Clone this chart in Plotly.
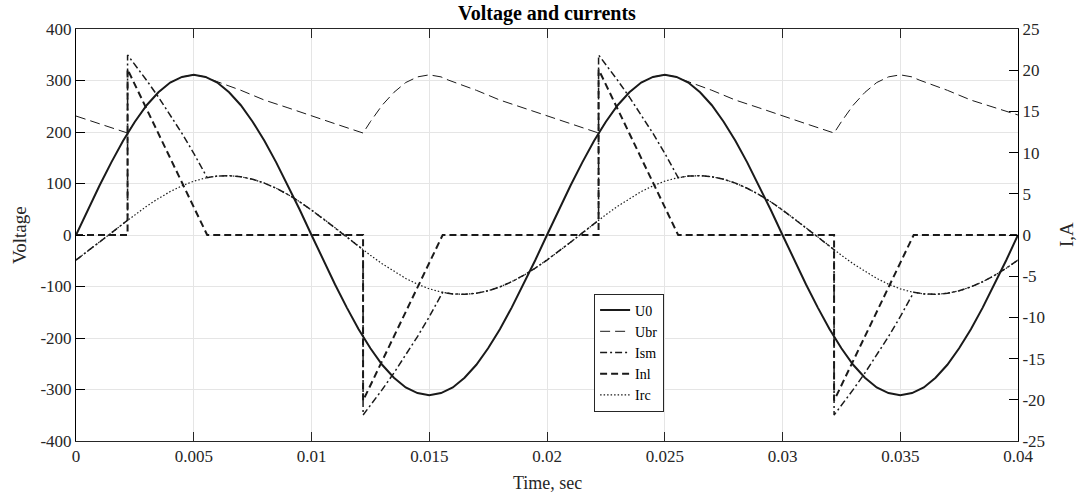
import plotly.graph_objects as go

# ---------------- data (time in ms, converted to s) ----------------
t_grid_ms = [0, 0.5, 1, 1.5, 2, 2.5, 3, 3.5, 4, 4.5, 5, 5.5, 6, 6.5, 7, 7.5, 8, 8.5, 9, 9.5,
             10, 10.5, 11, 11.5, 12, 12.5, 13, 13.5, 14, 14.5, 15, 15.5, 16, 16.5, 17, 17.5, 18, 18.5, 19, 19.5,
             20, 20.5, 21, 21.5, 22, 22.5, 23, 23.5, 24, 24.5, 25, 25.5, 26, 26.5, 27, 27.5, 28, 28.5, 29, 29.5,
             30, 30.5, 31, 31.5, 32, 32.5, 33, 33.5, 34, 34.5, 35, 35.5, 36, 36.5, 37, 37.5, 38, 38.5, 39, 39.5, 40]

u0_values = [0, 49, 96, 141, 183, 220, 252, 277, 296, 307, 311, 307, 296, 277, 252, 220, 183, 141, 96, 49,
             0, -49, -96, -141, -183, -220, -252, -277, -296, -307, -311, -307, -296, -277, -252, -220, -183, -141, -96, -49,
             0, 49, 96, 141, 183, 220, 252, 277, 296, 307, 311, 307, 296, 277, 252, 220, 183, 141, 96, 49,
             0, -49, -96, -141, -183, -220, -252, -277, -296, -307, -311, -307, -296, -277, -252, -220, -183, -141, -96, -49,
             0]

irc_values = [-3.04, -1.98, -0.88, 0.25, 1.37, 2.46, 3.49, 4.43, 5.27, 5.97, 6.53, 6.92, 7.15, 7.20, 7.07, 6.77, 6.30, 5.67, 4.91, 4.03,
              3.04, 1.98, 0.88, -0.25, -1.37, -2.46, -3.49, -4.43, -5.27, -5.97, -6.53, -6.92, -7.15, -7.20, -7.07, -6.77, -6.30, -5.67, -4.91, -4.03,
              -3.04, -1.98, -0.88, 0.25, 1.37, 2.46, 3.49, 4.43, 5.27, 5.97, 6.53, 6.92, 7.15, 7.20, 7.07, 6.77, 6.30, 5.67, 4.91, 4.03,
              3.04, 1.98, 0.88, -0.25, -1.37, -2.46, -3.49, -4.43, -5.27, -5.97, -6.53, -6.92, -7.15, -7.20, -7.07, -6.77, -6.30, -5.67, -4.91, -4.03,
              -3.04]

ubr_t_ms = [0, 1, 2.19, 2.5, 3, 3.5, 4, 4.5, 5, 5.5, 5.8, 7, 8, 9, 10, 11,
            12.19, 12.5, 13, 13.5, 14, 14.5, 15, 15.5, 15.8, 17, 18, 19, 20, 21,
            22.19, 22.5, 23, 23.5, 24, 24.5, 25, 25.5, 25.8, 27, 28, 29, 30, 31,
            32.19, 32.5, 33, 33.5, 34, 34.5, 35, 35.5, 35.8, 37, 38, 39, 40]
ubr_values = [231, 216, 198, 220, 252, 277, 296, 307, 311, 307, 301, 281, 262, 247, 231, 216,
              198, 220, 252, 277, 296, 307, 311, 307, 301, 281, 262, 247, 231, 216,
              198, 220, 252, 277, 296, 307, 311, 307, 301, 281, 262, 247, 231, 216,
              198, 220, 252, 277, 296, 307, 311, 307, 301, 281, 262, 247, 233]

ism_t_ms = [0, 0.5, 1, 1.5, 2, 2.19, 2.19, 2.5, 3, 3.5, 4, 4.5, 5, 5.5, 5.57, 6, 6.5, 7, 7.5, 8, 8.5, 9, 9.5,
            10, 10.5, 11, 11.5, 12, 12.19, 12.19, 12.5, 13, 13.5, 14, 14.5, 15, 15.5, 15.57, 16, 16.5, 17, 17.5, 18, 18.5, 19, 19.5,
            20, 20.5, 21, 21.5, 22, 22.19, 22.19, 22.5, 23, 23.5, 24, 24.5, 25, 25.5, 25.57, 26, 26.5, 27, 27.5, 28, 28.5, 29, 29.5,
            30, 30.5, 31, 31.5, 32, 32.19, 32.19, 32.5, 33, 33.5, 34, 34.5, 35, 35.5, 35.57, 36, 36.5, 37, 37.5, 38, 38.5, 39, 39.5,
            40]
ism_values = [-3.04, -1.98, -0.88, 0.25, 1.37, 1.79, 21.85, 20.72, 18.77, 16.74, 14.61, 12.33, 9.92, 7.34, 6.96, 7.15, 7.20, 7.07, 6.77, 6.30, 5.67, 4.91, 4.03,
              3.04, 1.98, 0.88, -0.25, -1.37, -1.79, -21.85, -20.72, -18.77, -16.74, -14.61, -12.33, -9.92, -7.34, -6.96, -7.15, -7.20, -7.07, -6.77, -6.30, -5.67, -4.91, -4.03,
              -3.04, -1.98, -0.88, 0.25, 1.37, 1.79, 21.85, 20.72, 18.77, 16.74, 14.61, 12.33, 9.92, 7.34, 6.96, 7.15, 7.20, 7.07, 6.77, 6.30, 5.67, 4.91, 4.03,
              3.04, 1.98, 0.88, -0.25, -1.37, -1.79, -21.85, -20.72, -18.77, -16.74, -14.61, -12.33, -9.92, -7.34, -6.96, -7.15, -7.20, -7.07, -6.77, -6.30, -5.67, -4.91, -4.03,
              -3.04]

inl_t_ms = [0, 2.19, 2.19, 5.57, 12.19, 12.19, 15.57, 22.19, 22.19, 25.57, 32.19, 32.19, 35.57, 40]
inl_values = [0, 0, 20.1, 0, 0, -20.1, 0, 0, 20.1, 0, 0, -20.1, 0, 0]

x_tickvals = [0, 0.005, 0.01, 0.015, 0.02, 0.025, 0.03, 0.035, 0.04]
x_ticktext = ["0", "0.005", "0.01", "0.015", "0.02", "0.025", "0.03", "0.035", "0.04"]
v_tickvals = [-400, -300, -200, -100, 0, 100, 200, 300, 400]
v_ticktext = ["-400", "-300", "-200", "-100", "0", "100", "200", "300", "400"]
i_tickvals = [-25, -20, -15, -10, -5, 0, 5, 10, 15, 20, 25]
i_ticktext = ["-25", "-20", "-15", "-10", "-5", "0", "5", "10", "15", "20", "25"]

def to_s(lst):
    return [v / 1000.0 for v in lst]

FONT = "Liberation Serif"
INK = "#1a1a1a"
AX = "#262626"

fig = go.Figure()
fig.add_trace(go.Scatter(x=to_s(t_grid_ms), y=u0_values, name="U0", mode="lines",
                         line=dict(color=INK, width=2)))
fig.add_trace(go.Scatter(x=to_s(ubr_t_ms), y=ubr_values, name="Ubr", mode="lines",
                         line=dict(color=INK, width=1, dash="10px,5px")))
fig.add_trace(go.Scatter(x=to_s(ism_t_ms), y=ism_values, name="Ism", mode="lines", yaxis="y2",
                         line=dict(color=INK, width=1.5, dash="7px,3px,2px,3px")))
fig.add_trace(go.Scatter(x=to_s(inl_t_ms), y=inl_values, name="Inl", mode="lines", yaxis="y2",
                         line=dict(color=INK, width=2, dash="7px,4px")))
fig.add_trace(go.Scatter(x=to_s(t_grid_ms), y=irc_values, name="Irc", mode="lines", yaxis="y2",
                         line=dict(color=INK, width=1.2, dash="1.5px,2px")))

tickfont = dict(family=FONT, size=17, color=AX)

fig.update_layout(
    width=1078, height=495,
    paper_bgcolor="white", plot_bgcolor="white",
    margin=dict(l=76, r=60, t=29, b=54, autoexpand=False),
    font=dict(family=FONT, size=15, color=AX),
    title=dict(text="<b>Voltage and currents</b>", x=0.5, xref="paper", xanchor="center",
               y=1 - 13 / 495, yref="container", yanchor="middle",
               font=dict(family=FONT, size=20, color="black")),
    xaxis=dict(range=[0, 0.04], tickvals=x_tickvals, ticktext=x_ticktext,
               ticks="inside", ticklen=9, tickcolor=AX, tickwidth=1,
               showline=True, linecolor=AX, linewidth=1, mirror="ticks",
               showgrid=True, gridcolor="#e5e5e5", gridwidth=1,
               zeroline=False, tickfont=tickfont),
    yaxis=dict(range=[-400, 400], tickvals=v_tickvals, ticktext=v_ticktext,
               ticks="inside", ticklen=9, tickcolor="black", tickwidth=1,
               showline=True, linecolor="black", linewidth=1,
               showgrid=True, gridcolor="#e5e5e5", gridwidth=1,
               zeroline=False, tickfont=tickfont),
    yaxis2=dict(range=[-25, 25], tickvals=i_tickvals, ticktext=i_ticktext, overlaying="y", side="right",
                ticks="inside", ticklen=9, tickcolor="black", tickwidth=1,
                showline=True, linecolor="black", linewidth=1,
                showgrid=False, zeroline=False, tickfont=tickfont),
    legend=dict(x=0.55, y=0.358, xanchor="left", yanchor="top",
                bgcolor="white", bordercolor=AX, borderwidth=1,
                font=dict(family=FONT, size=14, color="black"),
                tracegroupgap=0, itemwidth=30),
    showlegend=True,
)

fig.add_annotation(text="Time, sec", xref="paper", yref="paper", x=0.5, y=0,
                   yanchor="middle", yshift=-42, showarrow=False,
                   font=dict(family=FONT, size=18, color=AX))
fig.add_annotation(text="Voltage", xref="paper", yref="paper", x=0, y=0.5,
                   xanchor="center", xshift=-57, textangle=-90, showarrow=False,
                   font=dict(family=FONT, size=19, color=AX))
fig.add_annotation(text="I,A", xref="paper", yref="paper", x=1, y=0.5,
                   xanchor="center", xshift=48, textangle=-90, showarrow=False,
                   font=dict(family=FONT, size=19, color=AX))

fig.write_html("out.html", config={"displayModeBar": False},
               post_script="document.body.style.margin='0px';")
